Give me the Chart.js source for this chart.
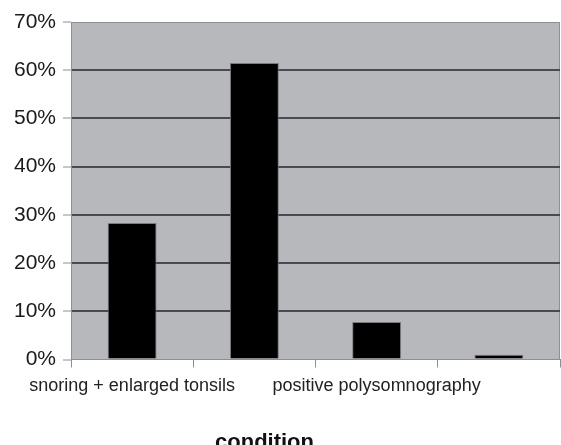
<!DOCTYPE html>
<html>
<head>
<meta charset="utf-8">
<script src="https://cdn.jsdelivr.net/npm/chart.js@4"></script>
<style>
  html, body { margin: 0; padding: 0; background: #fff; }
  #wrap { width: 561px; height: 445px; }
</style>
</head>
<body>
<div id="wrap"><canvas id="c" width="561" height="445"></canvas></div>
<script>
// Data
const categories = ['snoring + enlarged tonsils', '', 'positive polysomnography', ''];
const percentValues = [28.3, 61.5, 7.8, 1.0];
const yTicks = [0, 10, 20, 30, 40, 50, 60, 70];
const axisTitle = 'condition';

const FONT = '"Liberation Sans", Arial, Helvetica, sans-serif';

const plotBg = {
  id: 'plotBg',
  beforeDraw(chart) {
    const { ctx, chartArea: a } = chart;
    ctx.save();
    ctx.fillStyle = '#b7b8bc';
    ctx.fillRect(a.left, a.top, a.right - a.left, a.bottom - a.top);
    ctx.strokeStyle = '#8e8f93';
    ctx.lineWidth = 1;
    ctx.beginPath();
    ctx.moveTo(a.left, a.top + 0.5);
    ctx.lineTo(a.right - 0.5, a.top + 0.5);
    ctx.lineTo(a.right - 0.5, a.bottom);
    ctx.stroke();
    ctx.restore();
  }
};

const bottomTitle = {
  id: 'bottomTitle',
  afterDraw(chart) {
    const { ctx } = chart;
    ctx.save();
    ctx.font = 'bold 22px ' + FONT;
    ctx.fillStyle = '#111';
    ctx.textAlign = 'center';
    ctx.textBaseline = 'alphabetic';
    ctx.fillText(axisTitle, chart.width * 0.4715, chart.height + 4);
    ctx.restore();
  }
};

new Chart(document.getElementById('c'), {
  type: 'bar',
  data: {
    labels: categories,
    datasets: [{
      data: percentValues,
      backgroundColor: '#000000',
      borderColor: '#7a7b80',
      borderWidth: 1,
      barPercentage: 0.4,
      categoryPercentage: 1.0
    }]
  },
  options: {
    responsive: false,
    animation: false,
    devicePixelRatio: 1,
    layout: { padding: { top: 22, right: 1, left: 0, bottom: 0 } },
    plugins: { legend: { display: false }, tooltip: { enabled: false } },
    scales: {
      x: {
        grid: {
          offset: true,
          drawOnChartArea: false,
          tickLength: 8,
          tickColor: '#8e8f93',
          lineWidth: 1
        },
        border: { color: '#8e8f93', width: 1 },
        ticks: {
          autoSkip: false,
          maxRotation: 0,
          minRotation: 0,
          padding: 8,
          color: '#222',
          font: { family: FONT, size: 18 }
        },
        afterFit(scale) { scale.height = 85.5; }
      },
      y: {
        min: 0,
        max: 70,
        afterBuildTicks(scale) { scale.ticks = yTicks.map(v => ({ value: v })); },
        grid: {
          color: ctx => (ctx.index === 0 || ctx.index === yTicks.length - 1) ? 'rgba(0,0,0,0)' : '#474953',
          lineWidth: 2,
          tickLength: 8,
          tickColor: '#8e8f93',
          tickWidth: 1
        },
        border: { color: '#8e8f93', width: 1 },
        ticks: {
          padding: 7,
          color: '#1a1a1a',
          font: { family: FONT, size: 21 },
          callback: v => v + '%'
        },
        afterFit(scale) { scale.width = 71; }
      }
    }
  },
  plugins: [plotBg, bottomTitle]
});
</script>
</body>
</html>
